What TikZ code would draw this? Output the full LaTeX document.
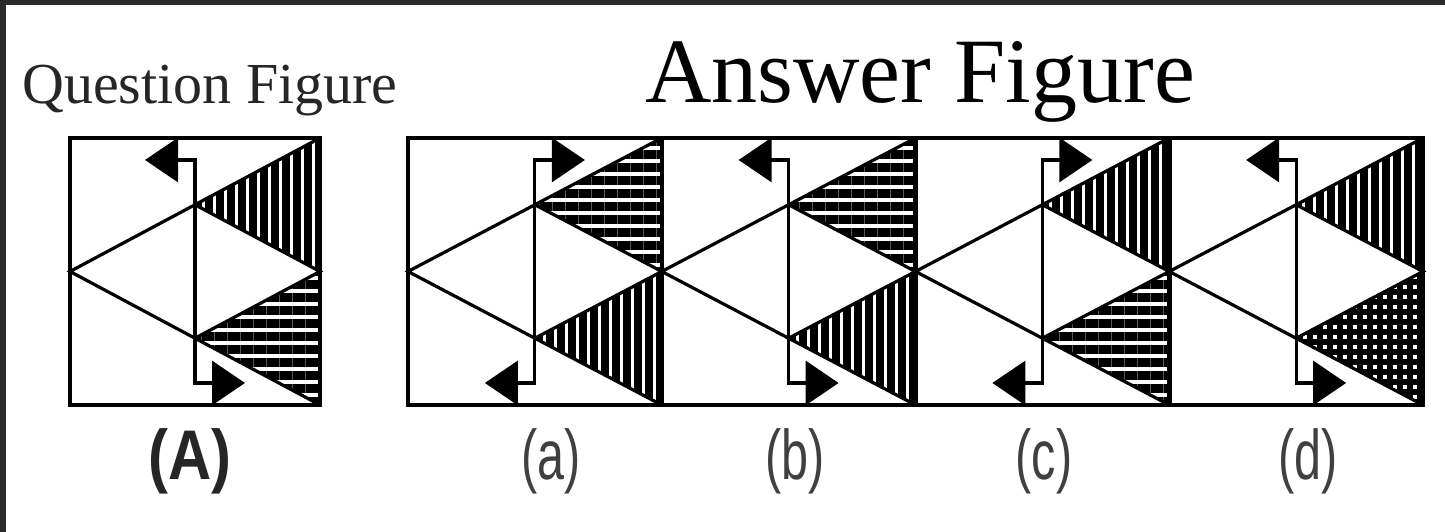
\documentclass[tikz,border=0pt]{standalone}
\usepackage{fontspec}
\setmainfont{Liberation Serif}
\newfontfamily\optfont[FakeStretch=0.69]{Liberation Sans}
\newfontfamily\qoptfont[FakeStretch=0.85]{Liberation Sans}
\usetikzlibrary{arrows.meta,patterns.meta}
\definecolor{edgegray}{HTML}{2A2A2A}
\definecolor{titlegray}{HTML}{262626}

\begin{document}
\begin{tikzpicture}[
  panelbox/.style={line width=0.45mm, line join=miter},
  figline/.style={line width=0.32mm},
  vstripes/.style={pattern={Lines[angle=90, distance=1.1mm, line width=0.75mm]}},
  hstripes/.style={pattern={Lines[angle=0, distance=1.3mm, line width=0.9mm]}},
  xhatch/.style={pattern={Hatch[angle=0, distance=1mm, line width=0.65mm]}},
  headtip/.tip={Triangle[length=3.3mm, width=4.4mm]}
]

% ----- latar dan tepi gelap -----
\useasboundingbox (0,0) rectangle (14.45,5.32);
\fill[white] (0,0) rectangle (14.45,5.32);
\fill[edgegray] (0,5.27) rectangle (14.45,5.32);
\fill[edgegray] (0,0) rectangle (0.06,5.32);

% ----- ukuran bersama -----
\def\yb{1.27}
\def\H{2.67}
\def\gap{0.22}

% ----- panel: nama/kiri/lebar/arsir atas/arsir bawah/arah panah atas -----
\foreach \name/\px/\pw/\topfill/\botfill/\s in {
    A/0.70/2.50/vstripes/hstripes/-1,
    a/4.08/2.5375/hstripes/vstripes/1,
    b/6.6175/2.5375/hstripes/vstripes/-1,
    c/9.155/2.5375/vstripes/hstripes/1,
    d/11.6925/2.5375/vstripes/xhatch/-1} {
  \begin{scope}[shift={(\px,\yb)}]
    \pgfmathsetmacro{\m}{\pw/2}
    % segitiga berarsir
    \fill[\topfill] (\m,0.75*\H) -- (\pw,\H) -- (\pw,0.5*\H) -- cycle;
    \fill[\botfill] (\m,0.25*\H) -- (\pw,0.5*\H) -- (\pw,0) -- cycle;
    % garis miring
    \draw[figline] (\pw,\H) -- (0,0.5*\H) -- (\pw,0);
    \draw[figline] (\m,0.75*\H) -- (\pw,0.5*\H) -- (\m,0.25*\H);
    % batang dengan dua panah
    \draw[figline, headtip-headtip]
      (\m+\s*0.50,\H-\gap) -- (\m,\H-\gap) -- (\m,\gap) -- (\m-\s*0.50,\gap);
    % bingkai
    \draw[panelbox] (0,0) rectangle (\pw,\H);
  \end{scope}
}

% ----- judul -----
\node[anchor=base, font=\fontsize{16.5}{18}\selectfont, text=titlegray]
  (qtitle) at (2.10,4.28) {Question Figure};
\node[anchor=base, font=\fontsize{26.2}{28}\selectfont]
  (atitle) at (9.20,4.29) {Answer Figure};

% ----- label panel -----
\node[font=\qoptfont\bfseries\fontsize{20}{22}\selectfont, text=black!85]
  (labA) at (1.90,0.71) {(A)};
\foreach \lab/\lx in {a/5.51, b/7.95, c/10.44, d/13.08}
  \node[font=\optfont\fontsize{20}{22}\selectfont, text=black!75]
    (lab\lab) at (\lx,0.71) {(\lab)};
\end{tikzpicture}
\end{document}
